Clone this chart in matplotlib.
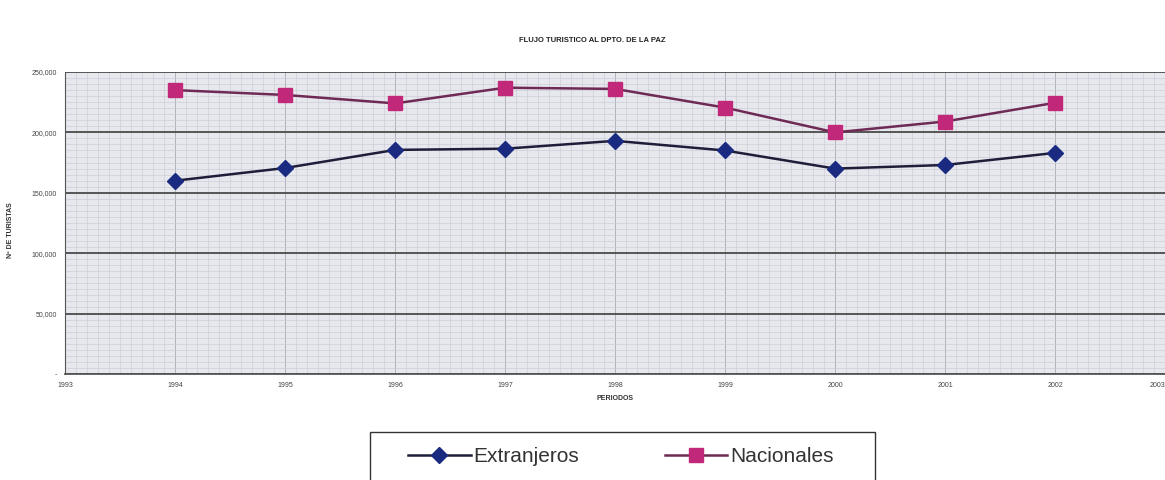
import matplotlib
matplotlib.use('Agg')
import matplotlib.pyplot as plt
from matplotlib.patches import Rectangle
from matplotlib.ticker import MultipleLocator, FuncFormatter

plt.rcParams['font.family'] = ['Liberation Sans', 'DejaVu Sans']

# data
years = [1994, 1995, 1996, 1997, 1998, 1999, 2000, 2001, 2002]
extranjeros = [160000, 170500, 185500, 186500, 193000, 185000, 170000, 173000, 183000]
nacionales = [235000, 231000, 224000, 237000, 236000, 220500, 200000, 209000, 224500]
year_ticks = list(range(1993, 2004))

W, H = 1165, 480
fig = plt.figure(figsize=(W / 100, H / 100), dpi=100)
fig.set_facecolor('white')
ax = fig.add_axes([0.056, 0.221, 0.944, 0.629])
ax.set_facecolor('#e7e8ed')

ax.set_xlim(1993, 2003)
ax.set_ylim(0, 250000)
ax.set_xticks(year_ticks)
ax.set_xticklabels([str(y) for y in year_ticks])
ax.xaxis.set_minor_locator(MultipleLocator(0.1))
ax.yaxis.set_major_locator(MultipleLocator(50000))
ax.yaxis.set_minor_locator(MultipleLocator(5000))

ax.grid(which='minor', color='#c9cbd4', linewidth=0.45)
ax.grid(which='major', axis='x', color='#b0b3be', linewidth=0.7)
ax.grid(which='major', axis='y', color='#4a4a4a', linewidth=1.3)
ax.set_axisbelow(True)

ax.yaxis.set_major_formatter(FuncFormatter(lambda v, p: '-' if v == 0 else f'{int(v):,}'))
ax.tick_params(which='both', length=0)
ax.tick_params(axis='both', labelsize=5, colors='#444444', pad=6)
ax.xaxis.get_major_ticks()[-1].label1.set_horizontalalignment('right')
for s in ['top', 'right']:
    ax.spines[s].set_visible(False)
ax.spines['left'].set_color('#555555')
ax.spines['bottom'].set_color('#555555')
ax.spines['bottom'].set_linewidth(1.3)

ax.plot(years, extranjeros, color='#1e1e3a', linewidth=1.8, marker='D',
        markersize=8, markerfacecolor='#1a2a80', markeredgecolor='#1a2a80',
        label='Extranjeros')
ax.plot(years, nacionales, color='#6e2a55', linewidth=1.8, marker='s',
        markersize=10, markerfacecolor='#c2287a', markeredgecolor='#c2287a',
        label='Nacionales')

fig.text(0.508, 0.912, 'FLUJO TURISTICO AL DPTO. DE LA PAZ', ha='center',
         fontsize=5.5, fontweight='bold', color='#222222')
ax.set_xlabel('PERIODOS', fontsize=5, fontweight='bold', color='#333333', labelpad=4)
fig.text(0.006, 0.52, 'Nº DE TURISTAS', rotation=90, va='center',
         fontsize=5, fontweight='bold', color='#333333')

# legend box, cut by the bottom edge as in the scan
fig.patches.append(Rectangle((370 / W, -0.05), 505 / W, 0.05 + (H - 432) / H,
                             transform=fig.transFigure, fill=False,
                             edgecolor='#333333', linewidth=1.0))
leg = fig.legend(loc='center left', bbox_to_anchor=(408 / W, 1 - 457 / H), ncol=2,
                 fontsize=15, frameon=False, handlelength=3.0,
                 columnspacing=4.1, borderpad=0, handletextpad=0.15,
                 borderaxespad=0)
for t in leg.get_texts():
    t.set_color('#333333')

fig.savefig('out.png', dpi=100)
